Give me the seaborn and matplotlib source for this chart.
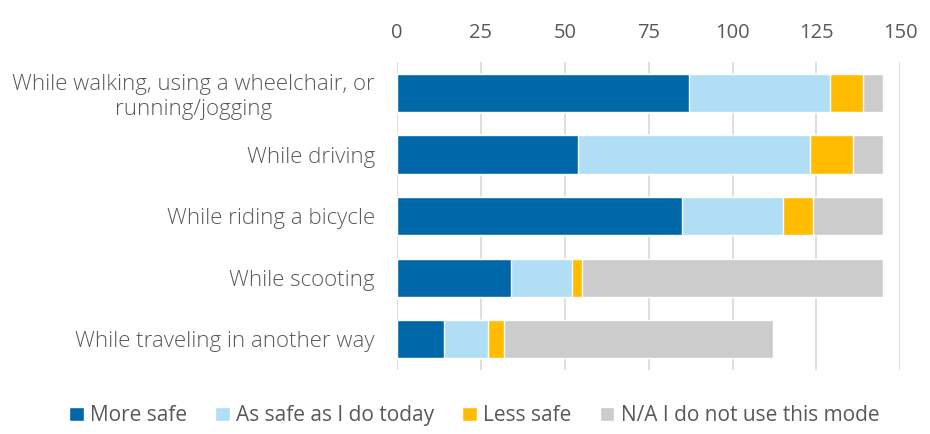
import numpy as np
import pandas as pd
import matplotlib
matplotlib.use('Agg')
import matplotlib.pyplot as plt
import seaborn as sns

modes = ['While walking, using a wheelchair, or\nrunning/jogging', 'While driving',
         'While riding a bicycle', 'While scooting', 'While traveling in another way']
more_safe = [87, 54, 85, 34, 14]
as_safe = [42, 69, 30, 18, 13]
less_safe = [10, 13, 9, 3, 5]
not_used = [6, 9, 21, 90, 80]

series = ['More safe', 'As safe as I do today', 'Less safe', 'N/A I do not use this mode']
colors = ['#0068A8', '#AFDEF5', '#FFBC00', '#CCCCCC']

sns.set_style('white')
plt.rcParams['font.family'] = ['Open Sans', 'DejaVu Sans']

df = pd.DataFrame({'mode': modes, series[0]: more_safe, series[1]: as_safe,
                   series[2]: less_safe, series[3]: not_used})
cum = df[series].cumsum(axis=1)

fig, ax = plt.subplots(figsize=(9.3, 4.34), dpi=100)
fig.subplots_adjust(left=0.427, right=0.968, top=0.857, bottom=0.147)

# stacked bars: draw cumulative totals from the back
for s, c in reversed(list(zip(series, colors))):
    sns.barplot(x=cum[s], y=df['mode'], color=c, orient='h', width=0.62,
                saturation=1, ax=ax, label=s)

ax.set_xlim(0, 150)
ax.set_xticks([0, 25, 50, 75, 100, 125, 150])
ax.xaxis.tick_top()
ax.tick_params(axis='x', length=0, labelsize=14.5, labelcolor='#595959', pad=14)
ax.tick_params(axis='y', length=0, labelsize=16, labelcolor='#595959', pad=16)
for lbl in ax.get_yticklabels():
    lbl.set_multialignment('center')
    lbl.set_fontweight('light')
ax.set_xlabel('')
ax.set_ylabel('')
ax.grid(axis='x', color='#D9D9D9', linewidth=1.2)
ax.set_axisbelow(True)
for sp in ax.spines.values():
    sp.set_visible(False)

handles, labels = ax.get_legend_handles_labels()
order = [labels.index(s) for s in series]
ax.legend([handles[i] for i in order], series, loc='lower center',
          bbox_to_anchor=(0.51, -0.025), bbox_transform=fig.transFigure,
          ncol=4, frameon=False, fontsize=15, labelcolor='#595959',
          handlelength=0.7, handleheight=0.7, handletextpad=0.3, columnspacing=1.35)

fig.savefig('out.png', dpi=100)
